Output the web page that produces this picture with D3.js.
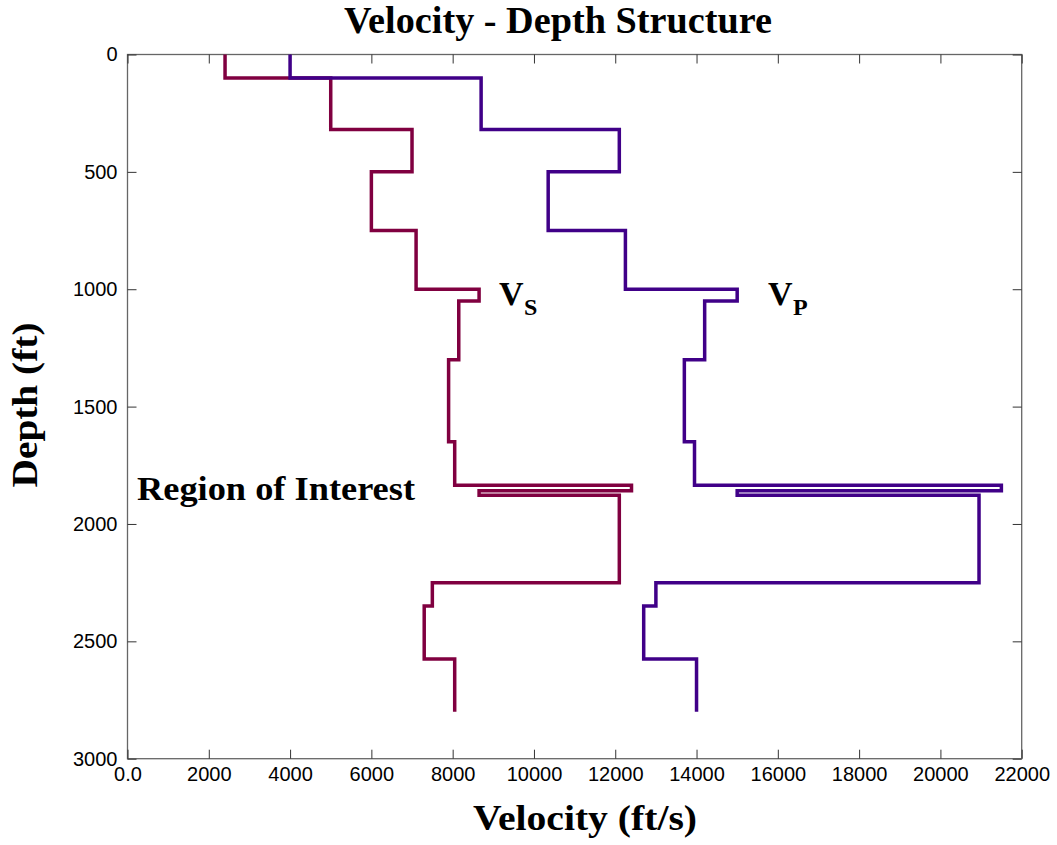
<!DOCTYPE html>
<meta charset="utf-8">
<style>
body { margin: 0; background: #fff; }
.tick text { font-family: "Liberation Sans", Arial, sans-serif; font-size: 20px; fill: #000; }
.tick line { stroke: #333; }
.domain { display: none; }
.lbl { font-family: "Liberation Serif", "Times New Roman", serif; font-weight: bold; fill: #000; }
</style>
<body>
<script src="https://d3js.org/d3.v7.min.js"></script>
<script>
// layer tops (ft) and interval velocities (ft/s)
var layerTops = [0, 100, 320, 500, 750, 1000, 1050, 1300, 1650, 1835, 1858, 1878, 2250, 2350, 2575];
var bottomDepth = 2800;
var vs = [2400, 5000, 7000, 6000, 7100, 8650, 8150, 7900, 8050, 12400, 8650, 12100, 7500, 7300, 8050];
var vp = [4000, 8700, 12100, 10350, 12250, 15000, 14200, 13700, 13950, 21500, 15000, 20950, 13000, 12700, 14000];
var xTicks = [0, 2000, 4000, 6000, 8000, 10000, 12000, 14000, 16000, 18000, 20000, 22000];
var yTicks = [0, 500, 1000, 1500, 2000, 2500, 3000];

var width = 1057, height = 845;
var plotL = 127.5, plotR = 1021.7, plotT = 54.5, plotB = 758.7;

var svg = d3.select("body").append("svg")
    .attr("width", width)
    .attr("height", height);

var x = d3.scaleLinear().domain([0, 22000]).range([plotL, plotR]);
var y = d3.scaleLinear().domain([0, 3000]).range([plotT, plotB]);

// frame
svg.append("rect")
    .attr("x", plotL).attr("y", plotT)
    .attr("width", plotR - plotL).attr("height", plotB - plotT)
    .attr("fill", "none").attr("stroke", "#666").attr("stroke-width", 1.3);

svg.append("g")
    .attr("transform", "translate(0," + plotB + ")")
    .call(d3.axisBottom(x).tickValues(xTicks).tickSizeInner(-9).tickSizeOuter(0).tickPadding(8)
        .tickFormat(function(d){ return d === 0 ? "0.0" : d; }));
svg.append("g")
    .attr("transform", "translate(0," + plotT + ")")
    .call(d3.axisTop(x).tickValues(xTicks).tickSizeInner(-9).tickSizeOuter(0).tickFormat(""));
svg.append("g")
    .attr("transform", "translate(" + plotL + ",0)")
    .call(d3.axisLeft(y).tickValues(yTicks).tickSizeInner(-9).tickSizeOuter(0).tickPadding(10)
        .tickFormat(function(d){ return d; }));
svg.append("g")
    .attr("transform", "translate(" + plotR + ",0)")
    .call(d3.axisRight(y).tickValues(yTicks).tickSizeInner(-9).tickSizeOuter(0).tickFormat(""));

// step profile points
function profile(vel) {
  var pts = [];
  vel.forEach(function(v, i) {
    var next = i + 1 < layerTops.length ? layerTops[i + 1] : bottomDepth;
    pts.push([v, layerTops[i]]);
    pts.push([v, next]);
  });
  return pts;
}

var line = d3.line()
    .x(function(d){ return x(d[0]); })
    .y(function(d){ return y(d[1]); });

svg.append("path")
    .attr("d", line(profile(vs)))
    .attr("fill", "none").attr("stroke", "#800040").attr("stroke-width", 3.5);
svg.append("path")
    .attr("d", line(profile(vp)))
    .attr("fill", "none").attr("stroke", "#400088").attr("stroke-width", 3.5);

// texts
svg.append("text").attr("class", "lbl")
    .attr("x", 558).attr("y", 33)
    .attr("text-anchor", "middle")
    .attr("textLength", 428).attr("lengthAdjust", "spacingAndGlyphs")
    .style("font-size", "38px")
    .text("Velocity - Depth Structure");

svg.append("text").attr("class", "lbl")
    .attr("x", 585).attr("y", 830)
    .attr("text-anchor", "middle")
    .attr("textLength", 224).attr("lengthAdjust", "spacingAndGlyphs")
    .style("font-size", "36px")
    .text("Velocity (ft/s)");

svg.append("text").attr("class", "lbl")
    .attr("transform", "translate(37,405) rotate(-90)")
    .attr("text-anchor", "middle")
    .attr("textLength", 165).attr("lengthAdjust", "spacingAndGlyphs")
    .style("font-size", "36px")
    .text("Depth (ft)");

svg.append("text").attr("class", "lbl")
    .attr("x", 137).attr("y", 500)
    .attr("textLength", 278).attr("lengthAdjust", "spacingAndGlyphs")
    .style("font-size", "34px")
    .text("Region of Interest");

function velLabel(xp, sub) {
  svg.append("text").attr("class", "lbl")
      .attr("x", xp).attr("y", 305)
      .style("font-size", "34px")
      .text("V");
  svg.append("text").attr("class", "lbl")
      .attr("x", xp + 25).attr("y", 315)
      .style("font-size", "24px")
      .text(sub);
}
velLabel(499, "S");
velLabel(768, "P");
</script>
</body>
